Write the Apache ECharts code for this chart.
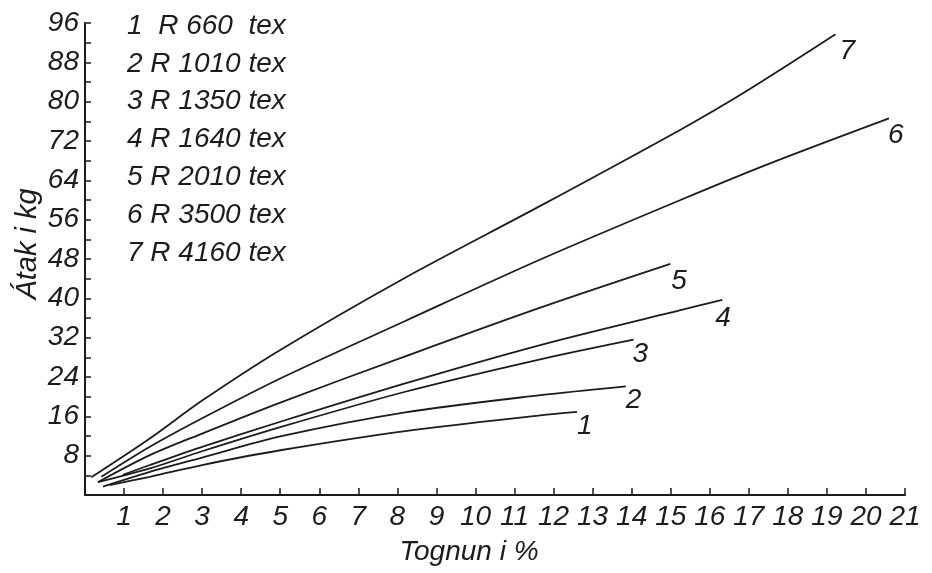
<!DOCTYPE html>
<html>
<head>
<meta charset="utf-8">
<script src="https://cdn.jsdelivr.net/npm/echarts@6/dist/echarts.min.js"></script>
<style>
  html, body { margin: 0; padding: 0; background: #ffffff; }
  #chart { width: 932px; height: 573px; }
</style>
</head>
<body>
<div id="chart"></div>
<script>
// Load–elongation curves for seven yarn counts
const curveNumbers = ['1', '2', '3', '4', '5', '6', '7'];
const yarnLabels = [
  '1  R 660  tex',
  '2 R 1010 tex',
  '3 R 1350 tex',
  '4 R 1640 tex',
  '5 R 2010 tex',
  '6 R 3500 tex',
  '7 R 4160 tex'
];

// elongation (%) and load (kg) per curve
const strain1 = [0.63, 1.66, 3, 5, 8.2, 11.66, 12.6];
const load1   = [2.0, 3.7, 6.1, 9.1, 13.0, 16.2, 16.9];
const strain2 = [0.46, 1.66, 3, 5, 8.2, 11.66, 13.85];
const load2   = [1.7, 4.7, 7.6, 11.9, 16.8, 20.3, 22.1];
const strain3 = [0.33, 1.66, 3, 5, 8.2, 11.66, 14.05];
const load3   = [2.6, 5.4, 8.9, 13.8, 21.0, 27.6, 31.6];
const strain4 = [0.97, 1.66, 3, 5, 8.2, 11.66, 15.25, 16.32];
const load4   = [4.1, 6.1, 9.8, 14.9, 22.7, 30.5, 37.6, 39.7];
const strain5 = [0.33, 1.66, 3, 5, 8.2, 11.66, 14.99];
const load5   = [2.6, 8.1, 12.5, 18.8, 28.2, 38.1, 47.0];
const strain6 = [0.42, 1.66, 3, 5, 8.2, 11.66, 15.25, 17.56, 20.59];
const load6   = [3.7, 9.8, 15.6, 23.7, 35.4, 47.9, 60.0, 67.5, 76.6];
const strain7 = [0.16, 1.66, 3, 5, 8.2, 11.66, 15.25, 16.87, 19.22];
const load7   = [3.6, 11.5, 19.2, 29.5, 44.2, 58.8, 74.3, 81.8, 93.7];

const strains = [strain1, strain2, strain3, strain4, strain5, strain6, strain7];
const loads = [load1, load2, load3, load4, load5, load6, load7];

// where each curve number sits relative to the curve's end
const numberOffsets = [[-8, 14], [-8, 14], [-9, 15], [-15, 18], [-7, 17], [-9, 17], [-4, 17]];

const FONT = 'Liberation Sans';
const INK = '#1c1c1c';

const series = curveNumbers.map((num, i) => ({
  name: yarnLabels[i],
  type: 'line',
  data: strains[i].map((x, k) => [x, loads[i][k]]),
  smooth: 0.3,
  showSymbol: false,
  symbol: 'none',
  lineStyle: { color: INK, width: 1.8 },
  itemStyle: { color: INK },
  endLabel: {
    show: true,
    formatter: () => num,
    offset: numberOffsets[i],
    fontFamily: FONT,
    fontStyle: 'italic',
    fontSize: 28,
    color: INK
  },
  emphasis: { disabled: true }
}));

const chart = echarts.init(document.getElementById('chart'), null, { renderer: 'canvas' });
chart.setOption({
  animation: false,
  backgroundColor: '#ffffff',
  grid: { left: 85, right: 27, top: 23, bottom: 78, containLabel: false },
  legend: {
    data: yarnLabels,
    orient: 'vertical',
    left: 122,
    top: 12,
    padding: 0,
    icon: 'none',
    itemWidth: 0,
    itemHeight: 28,
    itemGap: 9.8,
    selectedMode: false,
    textStyle: {
      fontFamily: FONT,
      fontStyle: 'italic',
      fontSize: 28,
      lineHeight: 28,
      color: INK
    }
  },
  xAxis: {
    type: 'value',
    min: 0,
    max: 21,
    interval: 1,
    splitLine: { show: false },
    axisLine: { lineStyle: { color: INK, width: 2 } },
    axisTick: { inside: true, length: 7, lineStyle: { color: INK, width: 1.5 } },
    axisLabel: {
      margin: 8,
      formatter: v => (v === 0 ? '' : String(v)),
      fontFamily: FONT,
      fontStyle: 'italic',
      fontSize: 28,
      color: INK
    }
  },
  yAxis: {
    type: 'value',
    min: 0,
    max: 96,
    interval: 4,
    splitLine: { show: false },
    axisLine: { show: true, lineStyle: { color: INK, width: 2 } },
    axisTick: { show: true, inside: true, length: 6, lineStyle: { color: INK, width: 1.5 } },
    axisLabel: {
      margin: 6,
      formatter: v => (v !== 0 && v % 8 === 0 ? String(v) : ''),
      fontFamily: FONT,
      fontStyle: 'italic',
      fontSize: 28,
      color: INK
    }
  },
  graphic: [
    {
      type: 'text',
      x: 469,
      y: 552,
      style: {
        text: 'Tognun i %',
        fontFamily: FONT,
        fontStyle: 'italic',
        fontSize: 28,
        fill: INK,
        textAlign: 'center',
        textVerticalAlign: 'middle'
      }
    },
    {
      type: 'text',
      x: 28,
      y: 244,
      rotation: Math.PI / 2,
      style: {
        text: 'Átak i kg',
        fontFamily: FONT,
        fontStyle: 'italic',
        fontSize: 29,
        fill: INK,
        textAlign: 'center',
        textVerticalAlign: 'middle'
      }
    }
  ],
  series: series
});
</script>
</body>
</html>
